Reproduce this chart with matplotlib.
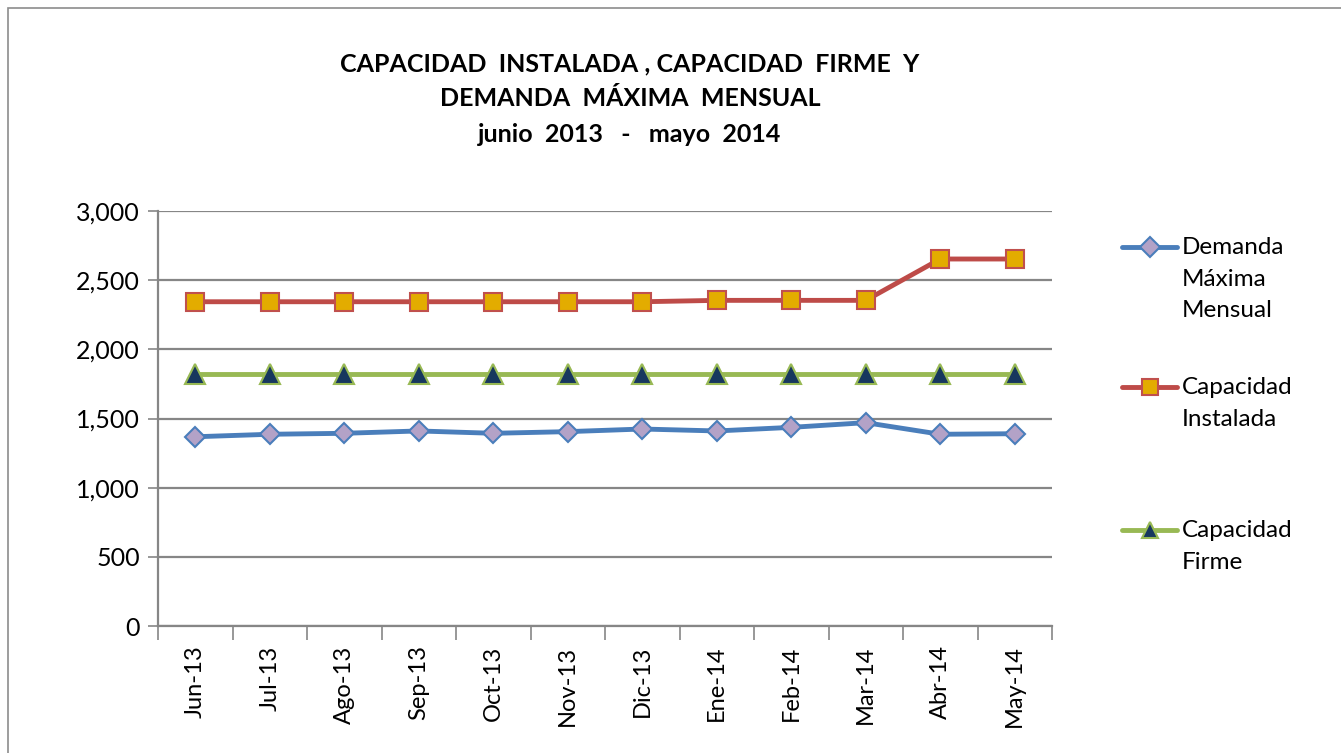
import matplotlib
matplotlib.use("Agg")
import matplotlib.pyplot as plt
import numpy as np
from matplotlib.lines import Line2D
from matplotlib.patches import Rectangle

# Data (MW)
months = ["Jun-13", "Jul-13", "Ago-13", "Sep-13", "Oct-13", "Nov-13",
          "Dic-13", "Ene-14", "Feb-14", "Mar-14", "Abr-14", "May-14"]
demanda = [1368, 1386, 1393, 1410, 1393, 1405, 1424, 1410, 1436, 1470, 1386, 1390]
instalada = [2344, 2344, 2344, 2344, 2344, 2344, 2344, 2354, 2354, 2354, 2653, 2653]
firme = [1822] * 12

plt.rcParams['font.family'] = ['Lato', 'DejaVu Sans']

fig = plt.figure(figsize=(13.41, 7.53), dpi=100)
fig.add_artist(Rectangle((8 / 1341, -0.1), 1.2, 1.1 - 8 / 753, transform=fig.transFigure,
                         fill=False, edgecolor="#8c8c8c", linewidth=1.2))

ax = fig.add_axes([158 / 1341, 1 - 626 / 753, (1052 - 158) / 1341, (626 - 211) / 753])

x = np.arange(len(months))
grey = "#868686"

ax.plot(x, demanda, color="#4a7ebb", linewidth=3.5, marker="D", markersize=10,
        markerfacecolor="#b3a2c7", markeredgecolor="#4a7ebb", markeredgewidth=1.5, zorder=3)
ax.plot(x, instalada, color="#be4b48", linewidth=3.5, marker="s", markersize=13,
        markerfacecolor="#e3ac00", markeredgecolor="#c0504d", markeredgewidth=1.5, zorder=3)
ax.plot(x, firme, color="#98b954", linewidth=3.5, marker="^", markersize=14,
        markerfacecolor="#17375e", markeredgecolor="#98b954", markeredgewidth=1.5, zorder=3)

ax.set_xlim(-0.5, len(months) - 0.5)
ax.set_ylim(0, 3000)
ax.set_yticks(range(0, 3001, 500))
ax.set_yticklabels([f"{v:,}" for v in range(0, 3001, 500)], fontsize=18)
ax.yaxis.grid(True, color=grey, linewidth=1.6)
ax.set_axisbelow(True)

ax.set_xticks(x)
ax.set_xticklabels(months, rotation=90, fontsize=17)
ax.tick_params(axis="x", length=0, pad=14)
ax.set_xticks(np.arange(-0.5, len(months)), minor=True)
ax.tick_params(axis="x", which="minor", length=10, color=grey, width=1.2)
ax.tick_params(axis="y", length=7, color=grey, width=1.2, pad=6)

for side in ["top", "right"]:
    ax.spines[side].set_visible(False)
for side in ["left", "bottom"]:
    ax.spines[side].set_color(grey)
    ax.spines[side].set_linewidth(1.6)

# Title
fig.text(630 / 1341, 1 - 99 / 753,
         "CAPACIDAD  INSTALADA , CAPACIDAD  FIRME  Y\nDEMANDA  MÁXIMA  MENSUAL\njunio  2013   -   mayo  2014",
         ha="center", va="center", fontsize=18, fontweight="bold", linespacing=1.65)

# Legend drawn manually so the key aligns with the first line of text
entries = [
    ("Demanda\nMáxima\nMensual", "#4a7ebb", "D", "#b3a2c7", "#4a7ebb", 10, 247),
    ("Capacidad\nInstalada", "#be4b48", "s", "#e3ac00", "#c0504d", 12, 387),
    ("Capacidad\nFirme", "#98b954", "^", "#17375e", "#98b954", 12, 530),
]
for label, lc, mk, mfc, mec, ms, ypix in entries:
    yf = 1 - ypix / 753
    fig.add_artist(Line2D([1122 / 1341, 1177 / 1341], [yf, yf], transform=fig.transFigure,
                          color=lc, linewidth=3.5, solid_capstyle="round"))
    fig.add_artist(Line2D([1149.5 / 1341], [yf], transform=fig.transFigure, marker=mk,
                          markersize=ms, markerfacecolor=mfc, markeredgecolor=mec,
                          markeredgewidth=1.5, linestyle="none"))
    fig.text(1182 / 1341, yf + 10 / 753, label, ha="left", va="top",
             fontsize=17.5, linespacing=1.62)

fig.savefig("out.png", dpi=100)
